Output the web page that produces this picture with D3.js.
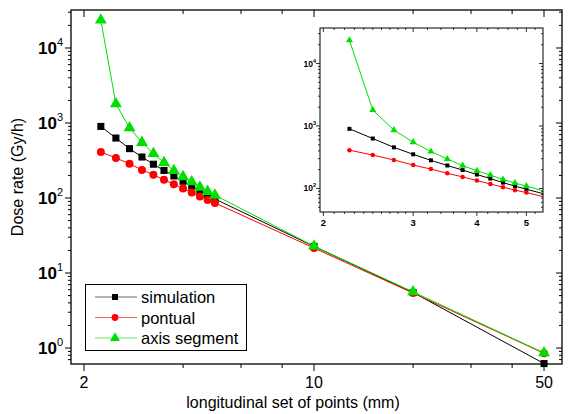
<!DOCTYPE html>
<html lang="en">

<head>
    <meta charset="UTF-8">
    <title>Dose rate</title>
    <style>
        body { margin: 0; background: #fff; }
        text { font-family: "Liberation Sans", Arial, sans-serif; fill: #000; }
    </style>
</head>

<body>
    <script src="https://d3js.org/d3.v7.min.js"></script>
    <svg id="vis"></svg>

    <script>
        // Data
        const distances = [2.25, 2.5, 2.75, 3, 3.25, 3.5, 3.75, 4, 4.25, 4.5, 4.75, 5, 10, 20, 50]
        const simulation = [900, 630, 455, 352, 282, 233, 197, 167, 144, 124, 109, 97, 22.6, 5.5, 0.62]
        const pontual = [410, 342, 286, 237, 204, 175, 153, 134, 118, 105, 94, 86, 21.5, 5.4, 0.85]
        const axisSegment = [23500, 1800, 860, 550, 390, 296, 232, 192, 164, 139, 122, 109, 22.8, 5.6, 0.86]
        const seriesNames = ['simulation', 'pontual', 'axis segment']
        const seriesColors = ['#000000', '#ff0000', '#00e000']
        const seriesSymbols = [d3.symbolSquare, d3.symbolCircle, d3.symbolTriangle]

        const xTickLabels = [2, 10, 50]
        const xTicks = [2, 4, 6, 8, 10, 20, 30, 40, 50]
        const yTickLabels = [0, 1, 2, 3, 4]
        const insetXTickLabels = [2, 3, 4, 5]
        const insetYTickLabels = [2, 3, 4]

        const series = seriesNames.map((name, i) => ({
            name: name,
            color: seriesColors[i],
            symbol: seriesSymbols[i],
            values: [simulation, pontual, axisSegment][i].map((v, j) => ({ x: distances[j], y: v }))
        }))

        // Layout
        const width = 572
        const height = 414
        const plot = { left: 71, right: 562, top: 10, bottom: 364 }
        const inset = { left: 320, right: 543, top: 28, bottom: 212 }

        const svg = d3.select('#vis')
            .attr('width', width)
            .attr('height', height)

        const x = d3.scaleLog().domain([1.826, 56.7]).range([plot.left, plot.right])
        const y = d3.scaleLog().domain([0.612, 32100]).range([plot.bottom, plot.top])

        const xi = d3.scaleLog().domain([1.97, 5.39]).range([inset.left, inset.right])
        const yi = d3.scaleLog().domain([42, 37000]).range([inset.bottom, inset.top])

        // minor ticks for a log y scale
        function logMinor(scale) {
            const [lo, hi] = scale.domain()
            const out = []
            for (let e = Math.floor(Math.log10(lo)); e <= Math.ceil(Math.log10(hi)); e++) {
                for (let m = 1; m < 10; m++) {
                    const v = m * Math.pow(10, e)
                    if (v >= lo && v <= hi) out.push({ v: v, major: m === 1 })
                }
            }
            return out
        }

        // ---------- Main chart ----------
        const main = svg.append('g')

        // y ticks (left outward, right inward: all point left)
        logMinor(y).forEach(t => {
            const len = t.major ? 6 : 3
            main.append('line')
                .attr('x1', plot.left - len).attr('x2', plot.left)
                .attr('y1', y(t.v)).attr('y2', y(t.v))
                .attr('stroke', '#000')
            main.append('line')
                .attr('x1', plot.right - len).attr('x2', plot.right)
                .attr('y1', y(t.v)).attr('y2', y(t.v))
                .attr('stroke', '#000')
        })

        // x ticks (bottom outward, top inward: all point down)
        xTicks.forEach(v => {
            const len = xTickLabels.includes(v) ? 7 : 4
            main.append('line')
                .attr('x1', x(v)).attr('x2', x(v))
                .attr('y1', plot.bottom).attr('y2', plot.bottom + len)
                .attr('stroke', '#000')
            main.append('line')
                .attr('x1', x(v)).attr('x2', x(v))
                .attr('y1', plot.top).attr('y2', plot.top + len)
                .attr('stroke', '#000')
        })

        main.selectAll('text.xlab').data(xTickLabels).enter()
            .append('text')
            .attr('class', 'xlab')
            .attr('x', d => x(d))
            .attr('y', plot.bottom + 24)
            .attr('text-anchor', 'middle')
            .attr('font-size', 16)
            .text(d => d)

        const ylab = main.selectAll('text.ylab').data(yTickLabels).enter()
            .append('text')
            .attr('class', 'ylab')
            .attr('x', plot.left - 8)
            .attr('y', d => y(Math.pow(10, d)) + 6)
            .attr('text-anchor', 'end')
            .attr('font-size', 17)
            .attr('font-weight', 'bold')
        ylab.append('tspan').text('10')
        ylab.append('tspan').attr('dy', -8).attr('font-size', 11).attr('font-weight', 'normal').text(d => d)

        main.append('text')
            .attr('x', 293)
            .attr('y', 408)
            .attr('text-anchor', 'middle')
            .attr('font-size', 16)
            .text('longitudinal set of points (mm)')

        main.append('text')
            .attr('transform', `translate(23,${(plot.top + plot.bottom) / 2 - 10}) rotate(-90)`)
            .attr('text-anchor', 'middle')
            .attr('font-size', 16)
            .text('Dose rate (Gy/h)')

        const line = d3.line().x(d => x(d.x)).y(d => y(d.y))

        series.forEach(s => {
            main.append('path')
                .attr('d', line(s.values))
                .attr('fill', 'none')
                .attr('stroke', s.color)
                .attr('stroke-width', 1)
            main.selectAll(null).data(s.values).enter()
                .append('path')
                .attr('transform', d => `translate(${x(d.x)},${y(d.y)})`)
                .attr('d', d3.symbol().type(s.symbol).size(s.symbol === d3.symbolTriangle ? 62 : 50))
                .attr('fill', s.color)
        })

        main.append('rect')
            .attr('x', plot.left).attr('y', plot.top)
            .attr('width', plot.right - plot.left).attr('height', plot.bottom - plot.top)
            .attr('fill', 'none').attr('stroke', '#000').attr('stroke-width', 1.3)

        // Legend
        const legend = main.append('g')
        legend.append('rect')
            .attr('x', 85.5).attr('y', 284.5).attr('width', 161).attr('height', 66)
            .attr('fill', '#fff').attr('stroke', '#000')
        series.forEach((s, i) => {
            const ly = 297 + i * 20.5
            legend.append('line')
                .attr('x1', 95).attr('x2', 137).attr('y1', ly).attr('y2', ly)
                .attr('stroke', s.color).attr('stroke-opacity', 0.6)
            legend.append('path')
                .attr('transform', `translate(115,${ly})`)
                .attr('d', d3.symbol().type(s.symbol).size(s.symbol === d3.symbolTriangle ? 44 : 36))
                .attr('fill', s.color)
            legend.append('text')
                .attr('x', 141).attr('y', ly + 6)
                .attr('font-size', 16.5)
                .text(s.name)
        })

        // ---------- Inset ----------
        const ins = svg.append('g')
        ins.append('rect')
            .attr('x', inset.left).attr('y', inset.top)
            .attr('width', inset.right - inset.left).attr('height', inset.bottom - inset.top)
            .attr('fill', '#fff')

        svg.append('clipPath').attr('id', 'insetClip')
            .append('rect')
            .attr('x', inset.left).attr('y', inset.top)
            .attr('width', inset.right - inset.left).attr('height', inset.bottom - inset.top)

        logMinor(yi).forEach(t => {
            const len = t.major ? 4 : 2
            ins.append('line')
                .attr('x1', inset.left - len).attr('x2', inset.left)
                .attr('y1', yi(t.v)).attr('y2', yi(t.v))
                .attr('stroke', '#000').attr('stroke-width', 0.8)
            ins.append('line')
                .attr('x1', inset.right - len).attr('x2', inset.right)
                .attr('y1', yi(t.v)).attr('y2', yi(t.v))
                .attr('stroke', '#000').attr('stroke-width', 0.8)
        })

        const insetXMinor = d3.range(20, 54).map(v => v / 10).filter(v => v < 3 || Math.round(v * 10) % 2 === 0)
        insetXMinor.forEach(v => {
            const len = insetXTickLabels.includes(v) ? 4 : 2
            ins.append('line')
                .attr('x1', xi(v)).attr('x2', xi(v))
                .attr('y1', inset.bottom).attr('y2', inset.bottom + len)
                .attr('stroke', '#000').attr('stroke-width', 0.8)
            ins.append('line')
                .attr('x1', xi(v)).attr('x2', xi(v))
                .attr('y1', inset.top).attr('y2', inset.top + len)
                .attr('stroke', '#000').attr('stroke-width', 0.8)
        })

        ins.selectAll('text.ixlab').data(insetXTickLabels).enter()
            .append('text')
            .attr('x', d => xi(d))
            .attr('y', inset.bottom + 14)
            .attr('text-anchor', 'middle')
            .attr('font-size', 9.5)
            .attr('font-weight', 'bold')
            .text(d => d)

        const iylab = ins.selectAll('text.iylab').data(insetYTickLabels).enter()
            .append('text')
            .attr('x', inset.left - 4)
            .attr('y', d => yi(Math.pow(10, d)) + 3)
            .attr('text-anchor', 'end')
            .attr('font-size', 8.5)
            .attr('font-weight', 'bold')
        iylab.append('tspan').text('10')
        iylab.append('tspan').attr('dy', -4).attr('font-size', 5.5).text(d => d)

        const iline = d3.line().x(d => xi(d.x)).y(d => yi(d.y))
        const insData = ins.append('g').attr('clip-path', 'url(#insetClip)')
        series.forEach(s => {
            insData.append('path')
                .attr('d', iline(s.values))
                .attr('fill', 'none')
                .attr('stroke', s.color)
                .attr('stroke-width', 1)
            insData.selectAll(null).data(s.values).enter()
                .append('path')
                .attr('transform', d => `translate(${xi(d.x)},${yi(d.y)})`)
                .attr('d', d3.symbol().type(s.symbol).size(s.symbol === d3.symbolTriangle ? 22 : 16))
                .attr('fill', s.color)
        })

        ins.append('rect')
            .attr('x', inset.left).attr('y', inset.top)
            .attr('width', inset.right - inset.left).attr('height', inset.bottom - inset.top)
            .attr('fill', 'none').attr('stroke', '#000').attr('stroke-width', 1)
    </script>
</body>

</html>
